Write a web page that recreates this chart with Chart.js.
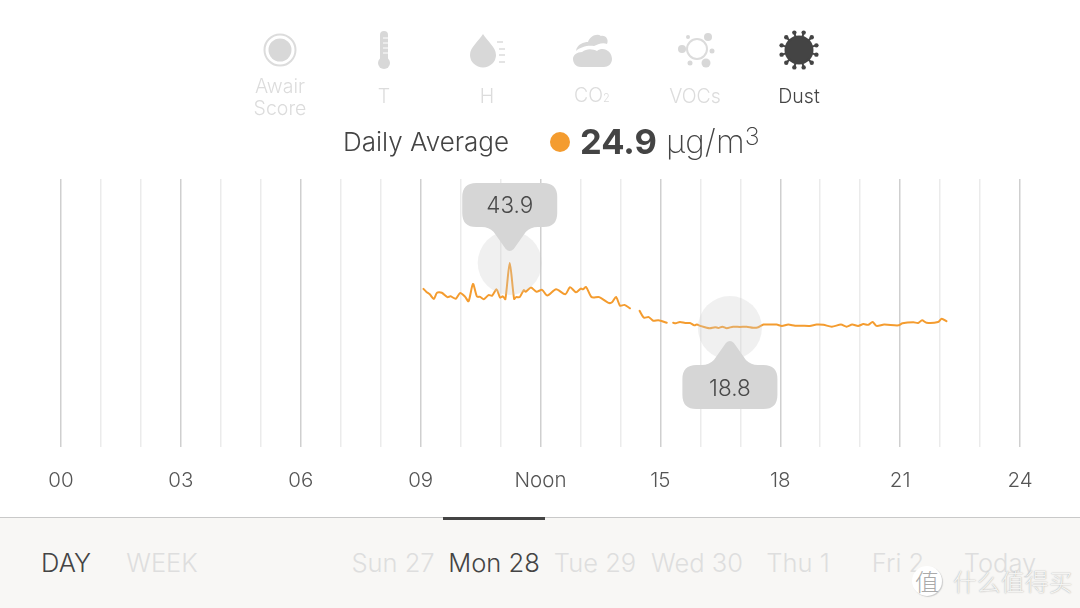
<!DOCTYPE html>
<html><head><meta charset="utf-8">
<style>
html,body{margin:0;padding:0;background:#fff;width:1080px;height:608px;overflow:hidden;font-family:Inter,"Liberation Sans",sans-serif;font-weight:300}
#wrap{position:relative;width:1080px;height:608px}
canvas{position:absolute;left:0;top:0}
.t{position:absolute;transform:translate(-50%,-50%);white-space:nowrap;color:#dcdcdc;font-size:19.5px;line-height:22px;text-align:center}
.a{position:absolute;white-space:nowrap;transform:translateY(-50%)}
#foot{position:absolute;left:0;top:517px;width:1080px;height:90px;background:#f8f7f5;border-top:1px solid #c9c9c9;border-bottom:1px solid #c9c9c9;box-sizing:content-box}
#bar{position:absolute;left:443px;top:517px;width:102px;height:3px;background:#444}
.f{position:absolute;top:562px;transform:translate(-50%,-50%);font-size:25.5px;color:#dedede;white-space:nowrap}
svg{position:absolute;left:0;top:0}
#wm{position:absolute;left:953px;top:581px;transform:translateY(-50%);font-family:"Noto Sans CJK SC";font-size:23.5px;font-weight:300;color:#f4f4f2;letter-spacing:.5px;text-shadow:0 0 1.5px #999;white-space:nowrap}
#wc{position:absolute;left:912px;top:566px;width:30px;height:30px;border-radius:50%;background:#fff;text-align:center;font:300 24px/30px "Noto Sans CJK SC";color:#aaa;box-shadow:1px 1px 1px #ccc}
</style></head><body>
<div id="wrap">
<canvas id="c" width="1080" height="608"></canvas>
<svg id="icons" width="1080" height="120" viewBox="0 0 1080 120">
  <circle cx="280" cy="50" r="15.5" fill="none" stroke="#dcdcdc" stroke-width="2"/>
  <circle cx="280" cy="50" r="11.5" fill="#d8d8d8"/>
  <rect x="380" y="31" width="8" height="32" rx="4" fill="#d8d8d8"/>
  <circle cx="384" cy="63" r="6" fill="#d8d8d8"/>
  <path d="M383 38h5M383 43h5M383 48h5M383 53h5" stroke="#fff" stroke-width="1"/>
  <path d="M483 34C479 41 470 47 470 55A13 12.5 0 0 0 496 55C496 47 487 41 483 34Z" fill="#d8d8d8"/>
  <path d="M497 42h6M499 49h6M499 55h6M499 62h6" stroke="#dcdcdc" stroke-width="1.5"/>
  <path d="M576 51C577 44 584 42 588 42C590 36 597 33 601 36C606 35 609 40 607 44C602 42 597 45 594 46C588 45 580 47 576 51Z" fill="#d8d8d8"/>
  <path d="M581 67C575 67 573 62 573 59C573 55 577 52 582 52C587 48 593 49 597 51C603 46 612 51 612 59C612 64 608 67 604 67Z" fill="#d8d8d8"/>
  <circle cx="697" cy="49" r="10" fill="none" stroke="#dcdcdc" stroke-width="2"/>
  <circle cx="708" cy="37" r="4" fill="#d8d8d8"/><circle cx="688" cy="37" r="2" fill="#d8d8d8"/>
  <circle cx="682" cy="49" r="4" fill="#d8d8d8"/><circle cx="712" cy="51" r="2.5" fill="#d8d8d8"/>
  <circle cx="690" cy="63" r="2.5" fill="#d8d8d8"/><circle cx="706" cy="63" r="4.5" fill="#d8d8d8"/>
  <g id="virus"><circle cx="799" cy="50" r="14.5" fill="#444"/></g>
</svg>
<div class="t" style="left:280px;top:96.5px">Awair<br>Score</div>
<div class="t" style="left:384px;top:95.5px">T</div>
<div class="t" style="left:487px;top:95.5px">H</div>
<div class="t" style="left:592px;top:95.5px">CO<span style="font-size:11px">2</span></div>
<div class="t" style="left:695px;top:95.5px">VOCs</div>
<div class="t" style="left:799px;top:95.5px;color:#444">Dust</div>
<div class="a" style="left:343px;top:141px;font-size:26px;color:#444">Daily Average</div>
<svg width="1080" height="170" style="pointer-events:none"><circle cx="560" cy="142" r="10" fill="#f49c2f"/></svg>
<div class="a" style="left:580px;top:141px;font-size:34.5px;font-weight:700;color:#444">24.9</div>
<div class="a" style="left:666px;top:141px;font-size:33px;font-weight:200;color:#444">μg/m<span style="font-size:25px;position:relative;top:-8px;font-weight:200">3</span></div>
<div id="foot"></div><div id="bar"></div>
<div class="f" style="left:66px;color:#444">DAY</div>
<div class="f" style="left:162px">WEEK</div>
<div class="f" style="left:393px">Sun 27</div>
<div class="f" style="left:494px;color:#444">Mon 28</div>
<div class="f" style="left:595px">Tue 29</div>
<div class="f" style="left:697px">Wed 30</div>
<div class="f" style="left:798px">Thu 1</div>
<div class="f" style="left:898px">Fri 2</div>
<div class="f" style="left:1000px">Today</div>
<div id="wc">值</div><div id="wm">什么值得买</div>
</div>
<script src="https://cdn.jsdelivr.net/npm/chart.js@4/dist/chart.umd.min.js"></script>
<script>
const hours = [9.07,9.14,9.23,9.33,9.41,9.53,9.67,9.75,9.88,9.99,10.11,10.20,10.31,10.41,10.49,10.58,10.70,10.79,10.90,10.99,11.06,11.12,11.23,11.34,11.39,11.48,11.58,11.63,11.76,11.90,12.04,12.17,12.39,12.62,12.74,12.89,13.01,13.06,13.14,13.28,13.47,13.70,13.79,13.89,13.99,14.10,14.24,14.36,
14.48,14.59,14.71,14.82,14.95,15.16,15.24,
15.32,15.38,15.49,15.62,15.74,15.85,15.91,16.02,16.16,16.24,16.37,16.45,16.55,16.66,16.82,16.99,17.16,17.32,17.45,17.58,17.74,17.91,18.04,18.20,18.37,18.53,18.74,18.91,19.08,19.29,19.52,19.66,19.80,19.95,20.08,20.20,20.31,20.41,20.60,20.95,21.06,21.33,21.45,21.55,21.66,21.95,22.04,22.16];
const dust = [33.9,32.8,31.8,30.0,32.4,32.4,30.7,31.0,30.1,32.3,30.9,29.1,35.8,30.9,30.8,29.9,31.5,31.3,33.7,30.5,31.0,29.9,43.9,30.0,30.7,30.7,33.4,32.8,34.4,32.8,33.5,31.3,33.7,31.8,34.5,32.6,34.0,33.7,34.6,30.7,30.7,28.5,28.7,30.8,27.4,27.7,26.4,null,
25.4,22.8,23.0,21.6,21.8,20.8,null,
20.8,20.6,21.1,20.7,20.7,19.8,20.1,19.5,18.9,18.7,19.1,18.8,19.3,18.7,19.3,19.2,19.3,18.9,19.1,20.1,20.1,20.1,19.6,20.1,19.7,19.7,19.6,20.1,20.0,19.3,20.1,19.3,20.1,19.6,20.3,20.0,21.1,19.6,20.1,19.8,20.6,21.0,20.7,21.8,20.8,21.1,22.4,21.4];
const tickLabels = {0:'00',3:'03',6:'06',9:'09',12:'Noon',15:'15',18:'18',21:'21',24:'24'};
const maxMark = {hour:11.23, value:43.9};
const minMark = {hour:16.74, value:18.8};

// decorative spikes of the dust icon
const v=document.getElementById('virus');let s='';
for(let i=0;i<12;i++){const a=(i+.5)*Math.PI/6,c=Math.cos(a),n=Math.sin(a);
 s+=`<line x1="${799+12*c}" y1="${50+12*n}" x2="${799+18*c}" y2="${50+18*n}" stroke="#444" stroke-width="2"/><circle cx="${799+18*c}" cy="${50+18*n}" r="2.2" fill="#444"/>`;}
v.innerHTML+=s;

function callout(ctx,cx,top,bot,dir,tipLen,label,ty){
  // dir=1: pointer below box; dir=-1: pointer above box
  const l=cx-47.5,r=cx+47.5,R=14,tip=(dir>0?bot:top)+dir*tipLen,hw=28;
  ctx.beginPath();
  ctx.moveTo(l+R,top);
  if(dir<0){ctx.lineTo(cx-hw,top);ctx.quadraticCurveTo(cx-hw+7,top,cx-hw+12,top-5);ctx.lineTo(cx-4,tip+3);ctx.quadraticCurveTo(cx,tip-1,cx+4,tip+3);ctx.lineTo(cx+hw-12,top-5);ctx.quadraticCurveTo(cx+hw-7,top,cx+hw,top);}
  ctx.lineTo(r-R,top);ctx.quadraticCurveTo(r,top,r,top+R);
  ctx.lineTo(r,bot-R);ctx.quadraticCurveTo(r,bot,r-R,bot);
  if(dir>0){ctx.lineTo(cx+hw,bot);ctx.quadraticCurveTo(cx+hw-7,bot,cx+hw-12,bot+5);ctx.lineTo(cx+4,tip-3);ctx.quadraticCurveTo(cx,tip+1,cx-4,tip-3);ctx.lineTo(cx-hw+12,bot+5);ctx.quadraticCurveTo(cx-hw+7,bot,cx-hw,bot);}
  ctx.lineTo(l+R,bot);ctx.quadraticCurveTo(l,bot,l,bot-R);
  ctx.lineTo(l,top+R);ctx.quadraticCurveTo(l,top,l+R,top);
  ctx.closePath();ctx.fillStyle='#d6d6d6';ctx.fill();
  ctx.fillStyle='#4a4a4a';ctx.font='300 22.5px Inter';ctx.textAlign='center';ctx.textBaseline='middle';
  ctx.fillText(label,cx,ty);
}
const marks={id:'marks',afterDatasetsDraw(chart){
  const {ctx,scales:{x,y}}=chart;ctx.save();
  const hx=x.getPixelForValue(maxMark.hour),hy=y.getPixelForValue(maxMark.value);
  const lx=x.getPixelForValue(minMark.hour),ly=y.getPixelForValue(minMark.value);
  ctx.fillStyle='rgba(205,205,205,.3)';
  ctx.beginPath();ctx.arc(hx,hy,32,0,Math.PI*2);ctx.fill();
  ctx.beginPath();ctx.arc(lx,ly,32,0,Math.PI*2);ctx.fill();
  callout(ctx,hx,183,227,1,25,maxMark.value.toFixed(1),206.5);
  callout(ctx,lx,365,409,-1,25,minMark.value.toFixed(1),389);
  ctx.restore();
}};
new Chart(document.getElementById('c'),{
  type:'line',
  data:{datasets:[{data:hours.map((h,i)=>({x:h,y:dust[i]})),borderColor:'#f49c2f',borderWidth:2,pointRadius:0,tension:0.25,borderJoinStyle:'round',borderCapStyle:'round',spanGaps:false,fill:false}]},
  options:{
    responsive:false,animation:false,events:[],
    layout:{padding:{left:61,right:60,top:179,bottom:101}},
    plugins:{legend:{display:false},tooltip:{enabled:false},title:{display:false}},
    scales:{
      x:{type:'linear',min:0,max:24,border:{display:false},
        afterFit(s){s.height=60;},
        grid:{drawTicks:false,lineWidth:1.5,color(c){return c.tick&&c.tick.value%3===0?'#cfcfcf':'#ebebeb';}},
        ticks:{stepSize:1,autoSkip:false,maxRotation:0,minRotation:0,padding:22,color:'#555',font:{family:'Inter',size:20.5,weight:'300'},
          callback(v){return tickLabels[v]!==undefined?tickLabels[v]:'';}}},
      y:{display:false,min:-27.15,max:76.3}
    }
  },
  plugins:[marks]
});
</script>
</body></html>
